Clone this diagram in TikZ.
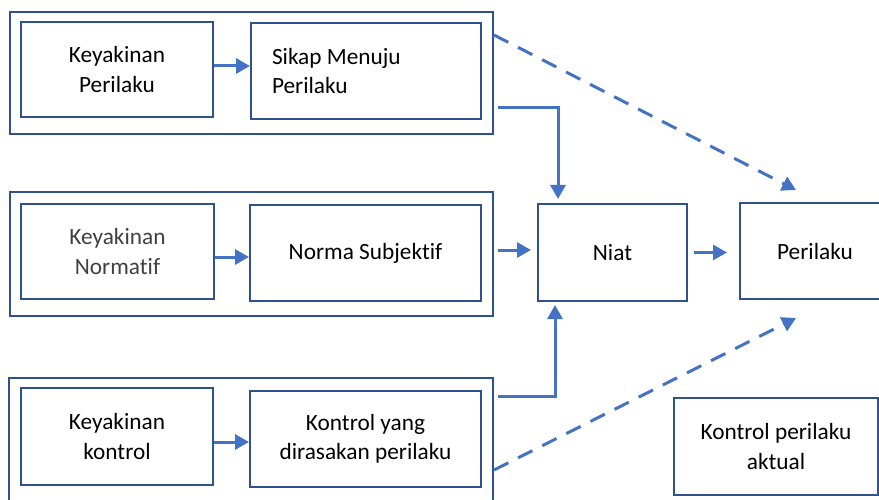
\documentclass[tikz,border=0pt]{standalone}
\usepackage{fontspec}
\setmainfont{Carlito}[Ligatures=NoCommon]
\usetikzlibrary{arrows.meta}
\definecolor{boxblue}{HTML}{2F528F}
\definecolor{arrblue}{HTML}{4472C4}
\definecolor{txtgray}{HTML}{404040}

\begin{document}
\begin{tikzpicture}[x=1pt, y=-1pt,
	box/.style={draw=boxblue, line width=2pt, inner sep=0pt, align=center, font=\fontsize{23.3}{29.5}\selectfont},
	group/.style={draw=boxblue, line width=2pt, inner sep=0pt},
	arr/.style={arrblue, line width=3pt, -{Triangle[length=14pt, width=15pt]}},
	dasharr/.style={arr, dash pattern=on 16pt off 11pt}]
	\useasboundingbox (0,0) rectangle (879,500);
	\clip (0,0) rectangle (879,500);
	
	\node[group, minimum width=483pt, minimum height=122pt] (grp1) at (251.5,73) {};
	\node[box, minimum width=192pt, minimum height=95pt] (kp) at (117,69.5) {Keyakinan\\Perilaku};
	\node[box, minimum height=96pt, text width=188pt, inner xsep=21pt, align=flush left] (sikap) at (366,71) {Sikap Menuju\\Perilaku};
	
	\node[group, minimum width=483pt, minimum height=124pt] (grp2) at (251.5,254) {};
	\node[box, text=txtgray, minimum width=193pt, minimum height=95pt] (kn) at (117.5,251.5) {Keyakinan\\Normatif};
	\node[box, minimum width=231pt, minimum height=96pt] (norma) at (365.5,253) {Norma Subjektif};
	
	\node[group, minimum width=484pt, minimum height=150pt] (grp3) at (251,453) {};
	\node[box, minimum width=192pt, minimum height=97pt] (kk) at (117,436.5) {Keyakinan\\kontrol};
	\node[box, minimum width=231pt, minimum height=96pt] (kontrol) at (365.5,439) {Kontrol yang\\dirasakan perilaku};
	
	\node[box, minimum width=149pt, minimum height=97pt] (niat) at (612.5,252.5) {Niat};
	\node[box, minimum width=150pt, minimum height=96pt] (perilaku) at (815,251) {Perilaku};
	\node[box, minimum width=204pt, minimum height=97pt] (aktual) at (776,446.5) {Kontrol perilaku\\aktual};
	
	\draw[arr] ([yshift=3.5pt]kp.east) -- ([yshift=5pt]sikap.west);
	\draw[arr] ([yshift=-5.5pt]kn.east) -- ([yshift=-4pt]norma.west);
	\draw[arr] ([yshift=-5.5pt]kk.east) -- ([yshift=-3pt]kontrol.west);
	
	\draw[arr, shorten <=4pt, shorten >=6pt] ([yshift=4pt]grp2.east) -- ([yshift=2.5pt]niat.west);
	\draw[arr, shorten <=6pt, shorten >=12pt] (niat.east) -- ([yshift=-1.5pt]perilaku.west);
	
	\draw[arr, shorten <=4pt, shorten >=4pt] ([yshift=-35pt]grp1.east) -| ([xshift=-54.5pt]niat.north);
	\draw[arr, shorten <=4pt, shorten >=3pt] ([yshift=-19pt]grp3.north east) -| ([xshift=-57.5pt]niat.south);
	
	\draw[dasharr] ([yshift=-24pt]grp1.north east) -- ([xshift=-19pt, yshift=12pt]perilaku.north);
	\draw[dasharr] ([yshift=-93pt]grp3.north east) -- ([xshift=-19pt, yshift=-18pt]perilaku.south);
\end{tikzpicture}
\end{document}
